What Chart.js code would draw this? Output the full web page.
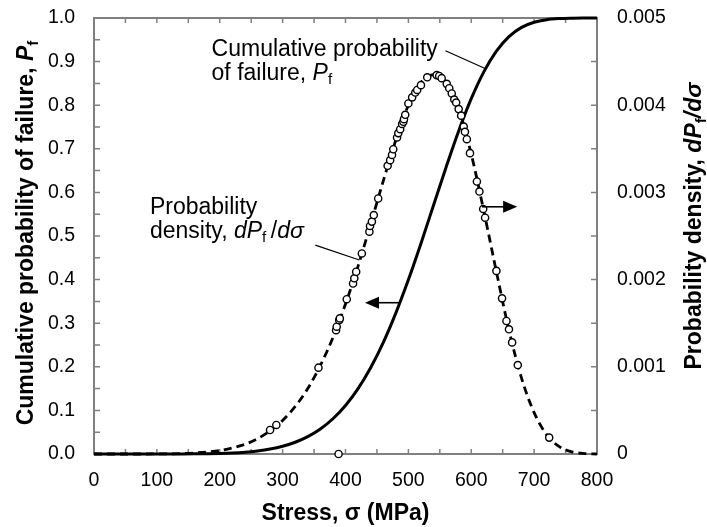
<!DOCTYPE html>
<html>
<head>
  <title>Cumulative probability of failure and probability density</title>
  <style>
    body {
      margin: 0;
      background: #fff;
    }
    #wrap {
      width: 707px;
      height: 527px;
    }
  </style>
</head>
<body>
  <div id="wrap">
    <canvas id="chart" width="707" height="527"></canvas>
  </div>

  <script src="https://cdn.jsdelivr.net/npm/chart.js"></script>
  <script>
    // stress grid (MPa) for the two smooth curves
    const stress = [0, 20, 40, 60, 80, 100, 120, 140, 160, 180, 200, 220, 240, 260, 280, 300,
      320, 340, 360, 380, 400, 420, 440, 460, 480, 500, 520, 540, 560, 580, 600, 620, 640,
      660, 680, 700, 720, 740, 760, 780, 800];
    // cumulative probability of failure, Pf (left axis)
    const cumulative = [0, 0, 0, 0, 0, 0, 0, 0.0001, 0.0003, 0.0006, 0.0012, 0.0023, 0.0041,
      0.0070, 0.0113, 0.0177, 0.0269, 0.0398, 0.0574, 0.0808, 0.1113, 0.1501, 0.1980, 0.2556,
      0.3232, 0.3996, 0.4830, 0.5706, 0.6579, 0.7409, 0.8149, 0.8765, 0.9240, 0.9572, 0.9784,
      0.9903, 0.9962, 0.9987, 0.9996, 0.9999, 1.0];
    // probability density dPf/dsigma (right axis)
    const density = [0, 0, 0, 0, 0, 0.000001, 0.000002, 0.000006, 0.000012, 0.000023, 0.00004,
      0.00007, 0.00011, 0.000175, 0.000265, 0.000385, 0.000545, 0.00075, 0.001015, 0.001335,
      0.00172, 0.002155, 0.002635, 0.00313, 0.0036, 0.004, 0.00426, 0.00435, 0.004255,
      0.003955, 0.00344, 0.002785, 0.00209, 0.00142, 0.00087, 0.000475, 0.00022, 0.000085,
      0.000025, 0.000005, 0];
    // open circles (measured strengths) on the density curve
    const sampleStress = [280, 290, 357, 385, 386, 389, 390, 391, 402, 412, 414, 417, 426, 438,
      439, 442, 445, 452, 467, 471, 474, 476, 482, 484, 487, 490, 492, 493, 495, 500, 506, 511,
      514, 520, 530, 545, 549, 553, 561, 565, 569, 573, 576, 580, 584, 588, 590, 593, 598, 609,
      613, 619, 622, 640, 649, 656, 660, 665, 674, 724];
    const sampleDensity = [0.000275, 0.000333, 0.00099, 0.00142, 0.00146, 0, 0.001535, 0.001555,
      0.001775, 0.001955, 0.002015, 0.00209, 0.0023, 0.00255, 0.002615, 0.002665, 0.00274,
      0.00293, 0.003305, 0.00337, 0.00343, 0.003495, 0.00363, 0.00368, 0.003725, 0.003785,
      0.00381, 0.00384, 0.00389, 0.00402, 0.00409, 0.004145, 0.004175, 0.00423, 0.00432,
      0.004345, 0.004335, 0.00431, 0.004245, 0.004195, 0.004135, 0.004065, 0.00403, 0.003955,
      0.00388, 0.003755, 0.003695, 0.00361, 0.00345, 0.003125, 0.00301, 0.00281, 0.00271,
      0.0021, 0.001785, 0.001525, 0.00143, 0.00128, 0.00102, 0.000188];

    const xTicks = [0, 100, 200, 300, 400, 500, 600, 700, 800];
    const leftTicks = [0, 0.1, 0.2, 0.3, 0.4, 0.5, 0.6, 0.7, 0.8, 0.9, 1.0];
    const rightTicks = [0, 0.001, 0.002, 0.003, 0.004, 0.005];

    const FAMILY = "'Liberation Sans', Arial, Helvetica, sans-serif";
    Chart.defaults.font.family = FAMILY;
    Chart.defaults.color = '#000';

    // draw a run of mixed-style text (italic / bold / subscript parts)
    function drawRuns(ctx, parts, size, x, y, centered) {
      const items = parts.map(p => {
        const s = p.sub ? size * 0.66 : size;
        const font = (p.i ? 'italic ' : '') + (p.b ? 'bold ' : '') + s + 'px ' + FAMILY;
        ctx.font = font;
        return { t: p.t, font, w: ctx.measureText(p.t).width, dy: p.sub ? size * 0.2 : 0 };
      });
      const total = items.reduce((s, p) => s + p.w, 0);
      let cx = centered ? x - total / 2 : x;
      ctx.textAlign = 'left';
      ctx.textBaseline = 'alphabetic';
      items.forEach(p => {
        ctx.font = p.font;
        ctx.fillText(p.t, cx, y + p.dy);
        cx += p.w;
      });
    }

    function arrow(ctx, x1, y1, x2, y2) {
      const dir = Math.sign(x2 - x1);
      ctx.beginPath();
      ctx.moveTo(x1, y1);
      ctx.lineTo(x2 - dir * 10, y2);
      ctx.stroke();
      ctx.beginPath();
      ctx.moveTo(x2, y2);
      ctx.lineTo(x2 - dir * 14, y2 - 6);
      ctx.lineTo(x2 - dir * 14, y2 + 6);
      ctx.closePath();
      ctx.fill();
    }

    const frame = {
      id: 'frame',
      beforeDatasetsDraw(chart) {
        const { ctx, chartArea: a, scales: { x, y, y2 } } = chart;
        ctx.save();
        ctx.strokeStyle = '#808080';
        ctx.lineWidth = 2;
        ctx.strokeRect(a.left, a.top, a.right - a.left, a.bottom - a.top);
        ctx.lineWidth = 1.5;
        ctx.beginPath();
        for (let v = 50; v < 800; v += 50) {
          const px = x.getPixelForValue(v);
          ctx.moveTo(px, a.bottom); ctx.lineTo(px, a.bottom - 5);
          ctx.moveTo(px, a.top); ctx.lineTo(px, a.top + 5);
        }
        for (let v = 0.05; v < 1; v += 0.05) {
          const py = y.getPixelForValue(v);
          ctx.moveTo(a.left, py); ctx.lineTo(a.left + 6, py);
        }
        for (let v = 0.0005; v < 0.005; v += 0.0005) {
          const py = y2.getPixelForValue(v);
          ctx.moveTo(a.right, py); ctx.lineTo(a.right - 6, py);
        }
        ctx.stroke();
        ctx.restore();
      },
      afterDatasetsDraw(chart) {
        const { ctx, chartArea: a, scales: { x, y } } = chart;
        ctx.save();
        ctx.fillStyle = '#000';
        ctx.strokeStyle = '#000';

        // annotation: cumulative curve
        const ax1 = x.getPixelForValue(187), ay1 = y.getPixelForValue(0.912);
        drawRuns(ctx, [{ t: 'Cumulative probability' }], 23, ax1, ay1, false);
        drawRuns(ctx, [{ t: 'of failure, ' }, { t: 'P', i: true }, { t: 'f', sub: true }], 23, ax1, ay1 + 23.5, false);

        // annotation: density curve
        const ax2 = x.getPixelForValue(89), ay2 = y.getPixelForValue(0.550);
        drawRuns(ctx, [{ t: 'Probability' }], 23, ax2, ay2, false);
        drawRuns(ctx, [{ t: 'density, ' }, { t: 'dP', i: true }, { t: 'f', sub: true },
          { t: '\u2009/' }, { t: 'd\u03c3', i: true }], 23, ax2, ay2 + 23.5, false);

        // leader lines
        ctx.lineWidth = 1.2;
        ctx.beginPath();
        ctx.moveTo(x.getPixelForValue(559), y.getPixelForValue(0.925));
        ctx.lineTo(x.getPixelForValue(622), y.getPixelForValue(0.884));
        ctx.moveTo(x.getPixelForValue(352), y.getPixelForValue(0.479));
        ctx.lineTo(x.getPixelForValue(422), y.getPixelForValue(0.445));
        ctx.stroke();

        // axis arrows
        ctx.lineWidth = 1.6;
        arrow(ctx, x.getPixelForValue(486), y.getPixelForValue(0.347), x.getPixelForValue(431), y.getPixelForValue(0.347));
        arrow(ctx, x.getPixelForValue(617), y.getPixelForValue(0.567), x.getPixelForValue(673), y.getPixelForValue(0.567));

        // axis titles
        drawRuns(ctx, [{ t: 'Stress, \u03c3 (MPa)', b: true }], 23, (a.left + a.right) / 2, 520, true);

        ctx.save();
        ctx.translate(33, 233);
        ctx.rotate(-Math.PI / 2);
        drawRuns(ctx, [{ t: 'Cumulative probability of failure, ', b: true }, { t: 'P', b: true, i: true },
          { t: 'f', b: true, sub: true }], 23, 0, 0, true);
        ctx.restore();

        ctx.save();
        ctx.translate(701, 226);
        ctx.rotate(-Math.PI / 2);
        drawRuns(ctx, [{ t: 'Probability density, ', b: true }, { t: 'dP', b: true, i: true },
          { t: 'f', b: true, sub: true }, { t: '/d\u03c3', b: true, i: true }], 23, 0, 0, true);
        ctx.restore();

        ctx.restore();
      }
    };

    const tickFont = { size: 19.5 };

    new Chart(document.getElementById('chart'), {
      data: {
        datasets: [
          {
            type: 'scatter',
            data: sampleStress.map((s, i) => ({ x: s, y: sampleDensity[i] })),
            yAxisID: 'y2',
            pointRadius: 3.6,
            pointBackgroundColor: '#fff',
            pointBorderColor: '#000',
            pointBorderWidth: 1.4,
            clip: false
          },
          {
            type: 'line',
            data: stress.map((s, i) => ({ x: s, y: density[i] })),
            yAxisID: 'y2',
            borderColor: '#000',
            borderWidth: 2.8,
            borderDash: [8, 5],
            pointRadius: 0,
            cubicInterpolationMode: 'monotone',
            fill: false,
            clip: false
          },
          {
            type: 'line',
            data: stress.map((s, i) => ({ x: s, y: cumulative[i] })),
            yAxisID: 'y',
            borderColor: '#000',
            borderWidth: 3,
            pointRadius: 0,
            cubicInterpolationMode: 'monotone',
            fill: false,
            clip: false
          }
        ]
      },
      options: {
        responsive: false,
        animation: false,
        devicePixelRatio: 1,
        layout: { padding: { top: 18, left: 0, right: 0, bottom: 0 } },
        plugins: {
          legend: { display: false },
          tooltip: { enabled: false }
        },
        scales: {
          x: {
            type: 'linear',
            position: 'bottom',
            min: 0,
            max: 800,
            grid: { display: false },
            border: { display: false },
            afterBuildTicks: s => { s.ticks = xTicks.map(v => ({ value: v })); },
            ticks: { font: tickFont, padding: 7, maxRotation: 0, callback: v => String(v) },
            afterFit: s => { s.height = 73; s.paddingLeft = 0; s.paddingRight = 0; }
          },
          y: {
            type: 'linear',
            position: 'left',
            min: 0,
            max: 1,
            grid: { display: false },
            border: { display: false },
            afterBuildTicks: s => { s.ticks = leftTicks.map(v => ({ value: v })); },
            ticks: { font: tickFont, padding: 11, callback: v => v.toFixed(1) },
            afterFit: s => { s.width = 94; s.paddingTop = 0; s.paddingBottom = 0; }
          },
          y2: {
            type: 'linear',
            position: 'right',
            min: 0,
            max: 0.005,
            grid: { display: false },
            border: { display: false },
            afterBuildTicks: s => { s.ticks = rightTicks.map(v => ({ value: v })); },
            ticks: { font: tickFont, padding: 12, callback: v => (v === 0 ? '0' : v.toFixed(3)) },
            afterFit: s => { s.width = 110; s.paddingTop = 0; s.paddingBottom = 0; }
          }
        }
      },
      plugins: [frame]
    });
  </script>
</body>
</html>
